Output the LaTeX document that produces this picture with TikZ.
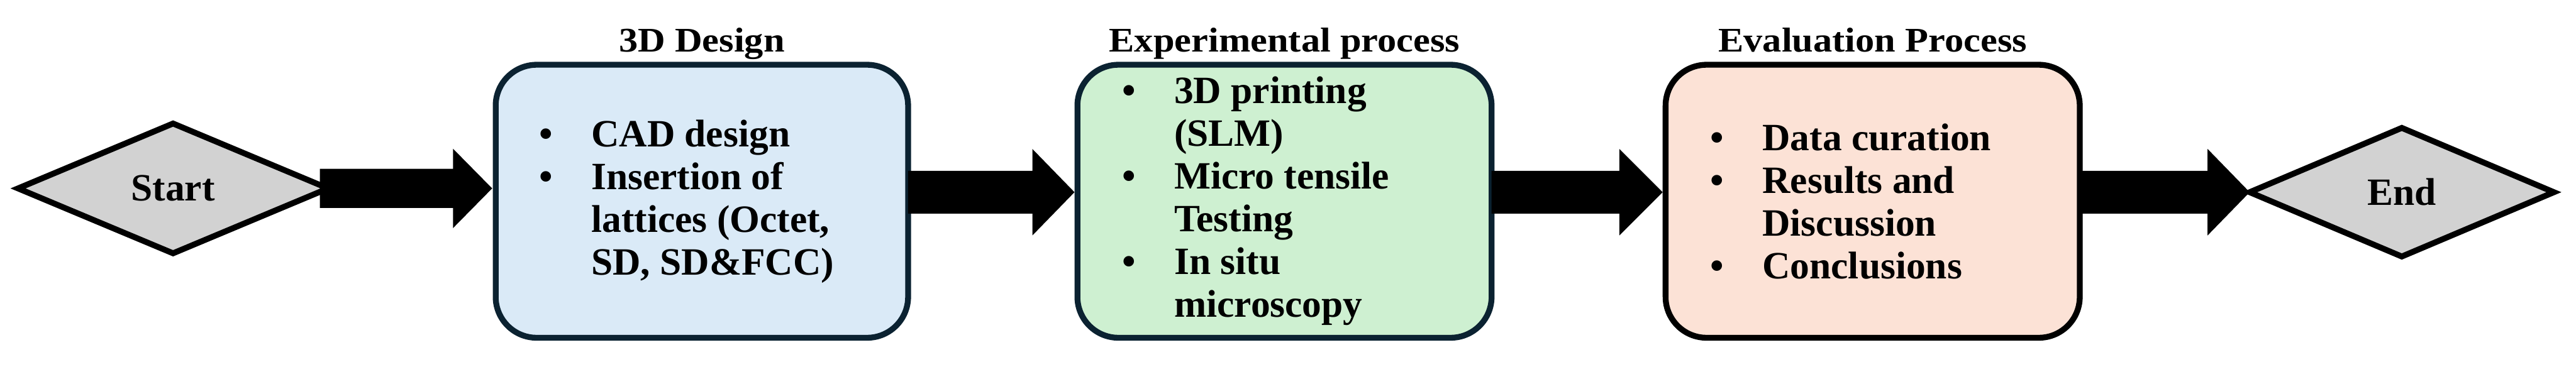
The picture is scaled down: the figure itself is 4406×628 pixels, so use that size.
\documentclass[tikz,border=0pt]{standalone}
\usepackage{fontspec}
\setmainfont{Liberation Serif}
\newfontfamily\titlefont{Liberation Serif}[FakeStretch=1.1]
\usetikzlibrary{shapes.geometric,calc}
\definecolor{navy}{HTML}{0B2231}
\definecolor{bluefill}{HTML}{DAEAF7}
\definecolor{greenfill}{HTML}{CEF0D1}
\definecolor{peachfill}{HTML}{FCE2D6}
\definecolor{diafill}{HTML}{D2D2D2}
\newcommand{\bitem}[1]{\makebox[0.89cm][l]{\textbullet}#1}
\newcommand{\bcont}[1]{\hspace*{0.89cm}#1}
% block arrow: from, to, shaft half height, head half height, head length
\newcommand{\blockarrow}[5]{%
  \fill[black] ($(#1)+(0,-#3)$) -- ($(#2)+(-#5,-#3)$) -- ($(#2)+(-#5,-#4)$) -- (#2)
    -- ($(#2)+(-#5,#4)$) -- ($(#2)+(-#5,#3)$) -- ($(#1)+(0,#3)$) -- cycle;}
\begin{document}
\begin{tikzpicture}[x=0.01cm,y=-0.01cm,
  stepbox/.style={draw=navy, line width=0.1cm, rounded corners=0.7cm, minimum width=7.08cm, minimum height=4.67cm, inner sep=0pt, outer sep=0pt},
  termnode/.style={diamond, draw=black, fill=diafill, line width=0.1cm, inner sep=0pt, outer sep=0pt, font=\fontsize{18.8}{20.8}\selectfont\bfseries},
  steptitle/.style={anchor=base, inner sep=0pt, font=\titlefont\fontsize{16.8}{18}\selectfont\bfseries},
  bodytext/.style={anchor=west, align=left, inner sep=0pt, font=\fontsize{18.8}{20.8}\selectfont\bfseries}
]
\useasboundingbox (0,0) rectangle (4406,628);
% terminals and steps
\node[termnode, minimum width=5.3cm, minimum height=2.22cm] (s) at (296,322.5) {Start};
\node[stepbox, fill=bluefill, minimum width=7.05cm] (b1) at (1200.5,344.5) {};
\node[stepbox, fill=greenfill] (b2) at (2197,344.5) {};
\node[stepbox, draw=black, fill=peachfill] (b3) at (3203,344.5) {};
\node[termnode, minimum width=5.2cm, minimum height=2.2cm] (e) at (4108,329) {End};
% titles
\node[steptitle] (t1) at ($(b1.north)+(0,-22)$) {3D Design};
\node[steptitle] (t2) at ($(b2.north)+(0,-22)$) {Experimental process};
\node[steptitle] (t3) at ($(b3.north)+(0,-22)$) {Evaluation Process};
% contents
\node[bodytext] (l1) at ($(b1.west)+(74,0)$) {\bitem{CAD design}\\ \bitem{Insertion of}\\ \bcont{lattices (Octet,}\\ \bcont{SD, SD\&FCC)}};
\node[bodytext] (l2) at ($(b2.west)+(76,0)$) {\bitem{3D printing}\\ \bcont{(SLM)}\\ \bitem{Micro tensile}\\ \bcont{Testing}\\ \bitem{In situ}\\ \bcont{microscopy}};
\node[bodytext] (l3) at ($(b3.west)+(76,0)$) {\bitem{Data curation}\\ \bitem{Results and}\\ \bcont{Discussion}\\ \bitem{Conclusions}};
% connector end points
\coordinate (a1s) at ($(s.east)+(-14,0)$);
\coordinate (a1e) at ($(s.east -| b1.west)+(-6,0)$);
\coordinate (a2s) at (b1.east |- e.west);
\coordinate (a2e) at ($(b2.west |- e.west)+(-5,0)$);
\coordinate (a3s) at (b2.east |- e.west);
\coordinate (a3e) at ($(b3.west |- e.west)+(-5,0)$);
\coordinate (a4s) at (b3.east |- e.west);
\coordinate (a4e) at (e.west);
% connectors
\blockarrow{a1s}{a1e}{33.5}{68}{67}
\blockarrow{a2s}{a2e}{36.5}{74}{72}
\blockarrow{a3s}{a3e}{36.5}{74}{74}
\blockarrow{a4s}{a4e}{36.5}{74}{72}
\end{tikzpicture}
\end{document}
